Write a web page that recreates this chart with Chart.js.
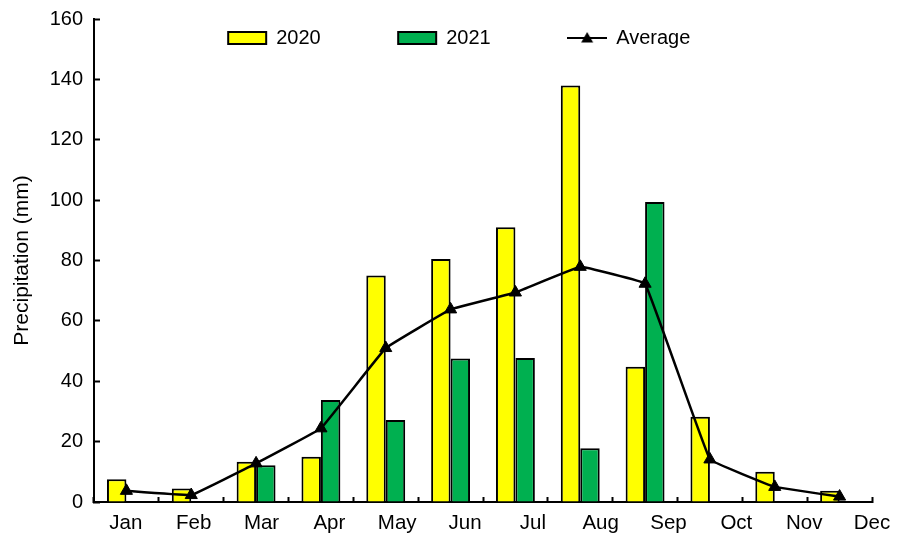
<!DOCTYPE html>
<html>
<head>
<meta charset="utf-8">
<script src="https://cdn.jsdelivr.net/npm/chart.js@4.4.1/dist/chart.umd.min.js"></script>
<style>
  html, body { margin: 0; padding: 0; background: #fff; }
  #wrap { width: 907px; height: 534px; }
</style>
</head>
<body>
<div id="wrap"><canvas id="rainChart"></canvas></div>
<script>
// monthly precipitation (mm)
const MONTHS = ["Jan", "Feb", "Mar", "Apr", "May", "Jun", "Jul", "Aug", "Sep", "Oct", "Nov", "Dec"];
const RAIN_2020 = [7.5, 4.5, 13.3, 15.0, 75.0, 80.5, 91.0, 138.0, 44.8, 28.2, 10.0, 3.7];
const RAIN_2021 = [0, 0, 12.2, 33.8, 27.2, 47.5, 47.7, 17.8, 99.4, 0, 0, 0];
const RAIN_AVG = [3.7, 2.3, 12.8, 24.4, 51.0, 63.8, 69.4, 77.9, 72.3, 14.1, 5.0, 1.8];

const Y_MIN = 0;
const Y_MAX = 160;
const Y_STEP = 20;

const FONT = "'Liberation Sans', Arial, Helvetica, sans-serif";
const LEGEND_GAP = 77.5;

// legend marker for the line series: short line with a triangle
const avgMarker = document.createElement("canvas");
avgMarker.width = 40;
avgMarker.height = 14;
(function () {
  const c = avgMarker.getContext("2d");
  c.strokeStyle = "#000";
  c.lineWidth = 2.2;
  c.beginPath();
  c.moveTo(0, 7);
  c.lineTo(40, 7);
  c.stroke();
  c.fillStyle = "#000";
  c.beginPath();
  c.moveTo(20, 1);
  c.lineTo(26, 11.5);
  c.lineTo(14, 11.5);
  c.closePath();
  c.fill();
})();

// legend sits inside the plot, so it must not take any layout space
const legendPlacement = {
  id: "legendPlacement",
  beforeInit(chart) {
    const fit = chart.legend.fit;
    chart.legend.fit = function () {
      fit.call(this);
      this.height = 0;
    };
  },
  afterLayout(chart) {
    const lg = chart.legend;
    lg.left = 46.5;
    lg.top = 28 - LEGEND_GAP;
    lg.bottom = 70;
  },
};

const ctx = document.getElementById("rainChart").getContext("2d");

new Chart(ctx, {
  type: "bar",
  data: {
    labels: MONTHS,
    datasets: [
      {
        label: "2020",
        data: RAIN_2020,
        backgroundColor: "#FFFF00",
        borderColor: "#000",
        borderWidth: 2,
        categoryPercentage: 0.6,
        barPercentage: 1.0,
        order: 2,
      },
      {
        label: "2021",
        data: RAIN_2021,
        backgroundColor: "#00B050",
        borderColor: "#000",
        borderWidth: 2,
        categoryPercentage: 0.6,
        barPercentage: 1.0,
        order: 2,
      },
      {
        type: "line",
        label: "Average",
        data: RAIN_AVG,
        borderColor: "#000",
        backgroundColor: "#000",
        borderWidth: 2.5,
        tension: 0.05,
        pointStyle: "triangle",
        pointRadius: 7,
        pointBorderWidth: 1,
        order: 0,
      },
    ],
  },
  options: {
    responsive: true,
    maintainAspectRatio: false,
    animation: false,
    layout: {
      padding: { top: 19, right: 35, bottom: 0, left: 10 },
    },
    plugins: {
      tooltip: { enabled: false },
      legend: {
        position: "top",
        align: "center",
        labels: {
          color: "#000",
          font: { family: FONT, size: 20 },
          usePointStyle: true,
          pointStyleWidth: 38,
          boxHeight: 12,
          padding: LEGEND_GAP,
          sort: (a, b) => a.datasetIndex - b.datasetIndex,
          generateLabels: (chart) => {
            const items = Chart.defaults.plugins.legend.labels.generateLabels(chart);
            items.forEach((it) => {
              it.pointStyle = it.datasetIndex === 2 ? avgMarker : "rect";
            });
            return items;
          },
        },
      },
    },
    scales: {
      x: {
        type: "category",
        position: "bottom",
        weight: 0,
        grid: {
          offset: true,
          drawOnChartArea: false,
          tickLength: -5,
          tickWidth: 2,
          tickColor: "#000",
        },
        border: { color: "#000", width: 2 },
        ticks: { display: false },
        afterFit: (scale) => {
          scale.height = 0;
        },
      },
      xm: {
        type: "linear",
        position: "bottom",
        weight: 1,
        offset: false,
        min: -0.47,
        max: 11,
        grid: { display: false, drawTicks: false },
        border: { display: false },
        afterBuildTicks: (scale) => {
          scale.ticks = MONTHS.map((m, i) => ({ value: i }));
        },
        ticks: {
          color: "#000",
          font: { family: FONT, size: 20.5, lineHeight: 1 },
          padding: 11,
          autoSkip: false,
          maxRotation: 0,
          callback: (value, index) => MONTHS[index],
        },
        afterFit: (scale) => {
          scale.height = 32;
        },
      },
      y: {
        min: Y_MIN,
        max: Y_MAX,
        grid: {
          drawOnChartArea: false,
          tickLength: -6,
          tickWidth: 2,
          tickColor: "#000",
        },
        border: { color: "#000", width: 2 },
        ticks: {
          stepSize: Y_STEP,
          color: "#000",
          font: { family: FONT, size: 20, lineHeight: 0.1 },
          padding: 17,
        },
        title: {
          display: true,
          text: "Precipitation (mm)",
          color: "#000",
          font: { family: FONT, size: 21 },
          padding: { top: 0, bottom: 0 },
        },
        afterFit: (scale) => {
          scale.width = 84;
        },
      },
    },
  },
  plugins: [legendPlacement],
});
</script>
</body>
</html>
